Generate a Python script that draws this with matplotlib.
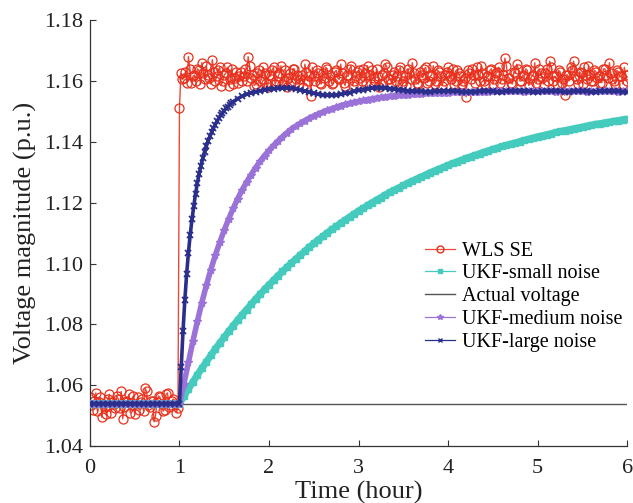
import numpy as np
import matplotlib
matplotlib.use("Agg")
import matplotlib.pyplot as plt
from matplotlib.lines import Line2D

plt.rcParams['font.family'] = ['Liberation Serif', 'DejaVu Serif']

# ---------------- data ----------------
t_wls = np.arange(0, 6.0001, 1/60)          # 1-minute samples
# before the step (even / odd minutes 0..59)
wls_pre_a = [1.0560, 1.0520, 1.0575, 1.0545, 1.0495, 1.0530, 1.0555, 1.0510, 1.0540, 1.0565,
             1.0525, 1.0490, 1.0550, 1.0570, 1.0535, 1.0505, 1.0560, 1.0545, 1.0515, 1.0580,
             1.0530, 1.0550, 1.0500, 1.0565, 1.0540, 1.0520, 1.0575, 1.0535, 1.0555, 1.0510]
wls_pre_b = [1.0535, 1.0550, 1.0515, 1.0560, 1.0540, 1.0505, 1.0570, 1.0545, 1.0525, 1.0555,
             1.0580, 1.0530, 1.0545, 1.0510, 1.0565, 1.0540, 1.0520, 1.0555, 1.0590, 1.0535,
             1.0550, 1.0480, 1.0545, 1.0560, 1.0515, 1.0570, 1.0530, 1.0550, 1.0540, 1.0525]
wls_step = [1.1510]                           # minute 60
# after the step (odd minutes 61..359 / even minutes 62..360)
wls_post_b = [1.1625, 1.1610, 1.1595, 1.1640, 1.1615, 1.1600, 1.1635, 1.1660, 1.1605, 1.1620,
              1.1590, 1.1630, 1.1615, 1.1645, 1.1600, 1.1625, 1.1585, 1.1640, 1.1610, 1.1595,
              1.1630, 1.1615, 1.1600, 1.1650, 1.1620, 1.1590, 1.1635, 1.1605, 1.1625, 1.1580,
              1.1615, 1.1645, 1.1600, 1.1625, 1.1590, 1.1635, 1.1610, 1.1595, 1.1640, 1.1620,
              1.1605, 1.1580, 1.1630, 1.1615, 1.1645, 1.1600, 1.1625, 1.1590, 1.1610, 1.1640,
              1.1620, 1.1595, 1.1635, 1.1605, 1.1625, 1.1585, 1.1615, 1.1650, 1.1600, 1.1630,
              1.1610, 1.1640, 1.1595, 1.1620, 1.1635, 1.1600, 1.1615, 1.1590, 1.1625, 1.1645,
              1.1605, 1.1620, 1.1600, 1.1635, 1.1590, 1.1615, 1.1640, 1.1605, 1.1625, 1.1595,
              1.1630, 1.1610, 1.1645, 1.1600, 1.1620, 1.1590, 1.1635, 1.1615, 1.1600, 1.1630,
              1.1615, 1.1640, 1.1600, 1.1625, 1.1590, 1.1610, 1.1635, 1.1605, 1.1620, 1.1645,
              1.1600, 1.1625, 1.1590, 1.1615, 1.1640, 1.1605, 1.1630, 1.1595, 1.1620, 1.1650,
              1.1610, 1.1590, 1.1625, 1.1640, 1.1600, 1.1615, 1.1635, 1.1605, 1.1620, 1.1595,
              1.1640, 1.1610, 1.1625, 1.1600, 1.1645, 1.1615, 1.1590, 1.1630, 1.1605, 1.1620,
              1.1600, 1.1635, 1.1615, 1.1590, 1.1625, 1.1645, 1.1605, 1.1620, 1.1600, 1.1630,
              1.1615, 1.1595, 1.1640, 1.1610, 1.1625, 1.1600, 1.1635, 1.1615, 1.1590, 1.1620]
wls_post_a = [1.1605, 1.1630, 1.1680, 1.1595, 1.1620, 1.1640, 1.1590, 1.1625, 1.1650, 1.1610,
              1.1670, 1.1600, 1.1635, 1.1585, 1.1620, 1.1645, 1.1605, 1.1590, 1.1630, 1.1615,
              1.1600, 1.1640, 1.1680, 1.1610, 1.1585, 1.1625, 1.1600, 1.1645, 1.1595, 1.1620,
              1.1635, 1.1590, 1.1615, 1.1650, 1.1600, 1.1580, 1.1625, 1.1640, 1.1605, 1.1590,
              1.1620, 1.1655, 1.1600, 1.1550, 1.1615, 1.1635, 1.1595, 1.1625, 1.1645, 1.1600,
              1.1590, 1.1630, 1.1610, 1.1655, 1.1595, 1.1620, 1.1640, 1.1585, 1.1615, 1.1635,
              1.1600, 1.1625, 1.1650, 1.1590, 1.1610, 1.1640, 1.1580, 1.1620, 1.1655, 1.1605,
              1.1595, 1.1630, 1.1615, 1.1645, 1.1600, 1.1585, 1.1625, 1.1660, 1.1605, 1.1590,
              1.1620, 1.1640, 1.1595, 1.1615, 1.1650, 1.1600, 1.1630, 1.1585, 1.1620, 1.1645,
              1.1605, 1.1590, 1.1635, 1.1615, 1.1600, 1.1548, 1.1625, 1.1640, 1.1595, 1.1620,
              1.1650, 1.1600, 1.1615, 1.1635, 1.1590, 1.1625, 1.1645, 1.1605, 1.1675, 1.1610,
              1.1595, 1.1630, 1.1655, 1.1600, 1.1620, 1.1640, 1.1585, 1.1615, 1.1660, 1.1605,
              1.1625, 1.1590, 1.1640, 1.1665, 1.1600, 1.1615, 1.1635, 1.1595, 1.1553, 1.1620,
              1.1645, 1.1665, 1.1605, 1.1630, 1.1590, 1.1620, 1.1650, 1.1600, 1.1635, 1.1610,
              1.1595, 1.1640, 1.1620, 1.1660, 1.1605, 1.1590, 1.1630, 1.1615, 1.1645, 1.1600]
wls_pre = np.column_stack([wls_pre_a, wls_pre_b]).ravel()
wls_post = np.column_stack([wls_post_b, wls_post_a]).ravel()
wls = np.concatenate([wls_pre, wls_step, wls_post])

t_ukf = np.arange(0, 6.0001, 0.05)           # 3-minute samples
ukf_pre = [1.054] * 20
ukf_small_post = [1.0540, 1.0564, 1.0588, 1.0611, 1.0634, 1.0656, 1.0677, 1.0698, 1.0719, 1.0739,
                  1.0758, 1.0777, 1.0796, 1.0814, 1.0832, 1.0849, 1.0866, 1.0883, 1.0899, 1.0915,
                  1.0930, 1.0945, 1.0960, 1.0974, 1.0988, 1.1002, 1.1015, 1.1028, 1.1041, 1.1054,
                  1.1066, 1.1078, 1.1089, 1.1101, 1.1112, 1.1122, 1.1133, 1.1143, 1.1153, 1.1163,
                  1.1173, 1.1182, 1.1191, 1.1200, 1.1209, 1.1217, 1.1226, 1.1234, 1.1242, 1.1249,
                  1.1257, 1.1264, 1.1271, 1.1278, 1.1285, 1.1292, 1.1299, 1.1305, 1.1311, 1.1317,
                  1.1323, 1.1329, 1.1335, 1.1340, 1.1346, 1.1351, 1.1356, 1.1361, 1.1366, 1.1371,
                  1.1376, 1.1380, 1.1385, 1.1389, 1.1393, 1.1397, 1.1401, 1.1405, 1.1409, 1.1413,
                  1.1417, 1.1420, 1.1424, 1.1427, 1.1431, 1.1434, 1.1437, 1.1440, 1.1443, 1.1446,
                  1.1449, 1.1452, 1.1455, 1.1458, 1.1460, 1.1463, 1.1465, 1.1468, 1.1470, 1.1473,
                  1.1475]
ukf_medium_post = [1.0540, 1.0605, 1.0675, 1.0745, 1.0810, 1.0872, 1.0928, 1.0980, 1.1027, 1.1070,
                   1.1110, 1.1147, 1.1181, 1.1213, 1.1242, 1.1268, 1.1292, 1.1315, 1.1336, 1.1355,
                   1.1372, 1.1388, 1.1403, 1.1417, 1.1430, 1.1442, 1.1452, 1.1461, 1.1470, 1.1478,
                   1.1485, 1.1492, 1.1498, 1.1504, 1.1509, 1.1514, 1.1519, 1.1523, 1.1527, 1.1530,
                   1.1533, 1.1536, 1.1539, 1.1541, 1.1544, 1.1546, 1.1548, 1.1550, 1.1551, 1.1553,
                   1.1554, 1.1555, 1.1556, 1.1557, 1.1558, 1.1559, 1.1560, 1.1561, 1.1561, 1.1562,
                   1.1562, 1.1563, 1.1563, 1.1564, 1.1564, 1.1564, 1.1565, 1.1565, 1.1565, 1.1565,
                   1.1566, 1.1566, 1.1566, 1.1567, 1.1566, 1.1566, 1.1566, 1.1565, 1.1566, 1.1566,
                   1.1567, 1.1566, 1.1566, 1.1566, 1.1565, 1.1566, 1.1566, 1.1567, 1.1566, 1.1566,
                   1.1566, 1.1565, 1.1566, 1.1566, 1.1567, 1.1566, 1.1566, 1.1566, 1.1565, 1.1566,
                   1.1566]
ukf_small = ukf_pre + ukf_small_post
ukf_medium = ukf_pre + ukf_medium_post

t_large = np.concatenate([np.arange(0, 0.99, 0.05),
                          np.arange(1.0, 1.6001, 0.02),
                          np.arange(1.65, 6.0001, 0.05)])
ukf_large = ([1.054] * 20 +
             [1.0540, 1.0660, 1.0780, 1.0880, 1.0965, 1.1035, 1.1095, 1.1145, 1.1190, 1.1230,
              1.1265, 1.1295, 1.1322, 1.1346, 1.1367, 1.1386, 1.1403, 1.1418, 1.1432, 1.1445,
              1.1457, 1.1468, 1.1478, 1.1487, 1.1495, 1.1503, 1.1510, 1.1516, 1.1522, 1.1527,
              1.1532] +
             [1.1542, 1.1550, 1.1556, 1.1561, 1.1565, 1.1568, 1.1571, 1.1573, 1.1575, 1.1576,
              1.1577, 1.1577, 1.1576, 1.1574, 1.1571, 1.1567, 1.1563, 1.1559, 1.1556, 1.1554,
              1.1553, 1.1553, 1.1554, 1.1556, 1.1559, 1.1562, 1.1566, 1.1569, 1.1572, 1.1575,
              1.1577, 1.1578, 1.1578, 1.1577, 1.1575, 1.1573, 1.1571, 1.1569, 1.1568, 1.1567,
              1.1566, 1.1566, 1.1565, 1.1565, 1.1566, 1.1567, 1.1568, 1.1568, 1.1567, 1.1566,
              1.1565, 1.1564, 1.1564, 1.1565, 1.1566, 1.1567, 1.1567, 1.1566, 1.1565, 1.1565,
              1.1566, 1.1567, 1.1568, 1.1568, 1.1567, 1.1566, 1.1565, 1.1565, 1.1566, 1.1566,
              1.1567, 1.1567, 1.1566, 1.1565, 1.1565, 1.1566, 1.1567, 1.1567, 1.1566, 1.1565,
              1.1565, 1.1566, 1.1567, 1.1567, 1.1566, 1.1566, 1.1565, 1.1565])

t_actual = [0, 6]
actual = [1.054, 1.054]

labels = ["WLS SE", "UKF-small noise", "Actual voltage", "UKF-medium noise", "UKF-large noise"]
x_ticks = [0, 1, 2, 3, 4, 5, 6]
y_ticks = [1.04, 1.06, 1.08, 1.10, 1.12, 1.14, 1.16, 1.18]

# ---------------- plot ----------------
c_wls = "#e8301c"
c_wls_line = "#ec4a38"
c_small = "#45cbbd"
c_actual = "#555555"
c_medium = "#9a72d8"
c_large = "#2a2f8c"

fig = plt.figure(figsize=(6.33, 5.03), dpi=100)
ax = fig.add_axes([0.142, 0.113, 0.849, 0.847])

ax.plot(t_wls, wls, color=c_wls_line, lw=1.0, marker='o', ms=6.5,
        mfc='none', mec=c_wls, mew=0.9, zorder=2)
ax.plot(t_ukf, ukf_small, color=c_small, lw=5.0, marker='s', ms=4.0,
        mfc=c_small, mec=c_small, zorder=3, solid_capstyle='butt')
ax.plot(t_actual, actual, color=c_actual, lw=1.0, zorder=3)
ax.plot(t_ukf, ukf_medium, color=c_medium, lw=4.0, marker='*', ms=6,
        mfc=c_medium, mec=c_medium, zorder=4, solid_capstyle='butt')
ax.plot(t_large, ukf_large, color=c_large, lw=2.6, marker='x', ms=4.5,
        mew=1.3, mec=c_large, zorder=5, solid_capstyle='butt')

ax.set_xlim(0, 6)
ax.set_ylim(1.04, 1.18)
ax.set_xticks(x_ticks)
ax.set_yticks(y_ticks)
ax.set_yticklabels([f"{v:.2f}" for v in y_ticks])
ax.spines['top'].set_visible(False)
ax.spines['right'].set_visible(False)
for s in ['left', 'bottom']:
    ax.spines[s].set_color('#333333')
    ax.spines[s].set_linewidth(0.9)
ax.tick_params(direction='in', length=4, width=0.8, labelsize=16, colors='#333333',
               labelcolor='#222222')
ax.tick_params(axis='x', pad=9)
ax.tick_params(axis='y', pad=5)
ax.set_xlabel("Time (hour)", fontsize=19, labelpad=2, color='#222222')
ax.set_ylabel("Voltage magnitude (p.u.)", fontsize=19, labelpad=5, color='#222222')

handles = [
    Line2D([], [], color=c_wls_line, lw=0.9, marker='o', ms=5, mfc='none', mec=c_wls),
    Line2D([], [], color=c_small, lw=0.9, marker='s', ms=3, mfc=c_small, mec=c_small),
    Line2D([], [], color=c_actual, lw=1.0),
    Line2D([], [], color=c_medium, lw=0.9, marker='*', ms=4, mfc=c_medium, mec=c_medium),
    Line2D([], [], color=c_large, lw=0.9, marker='x', ms=3.5, mew=1.0, mec=c_large),
]
ax.legend(handles, labels, loc='upper left', bbox_to_anchor=(0.609, 0.499), frameon=False,
          fontsize=14.5, handlelength=1.5, handletextpad=0.35, labelspacing=0.18,
          borderaxespad=0, borderpad=0.4)

fig.savefig("out.png", dpi=100)
